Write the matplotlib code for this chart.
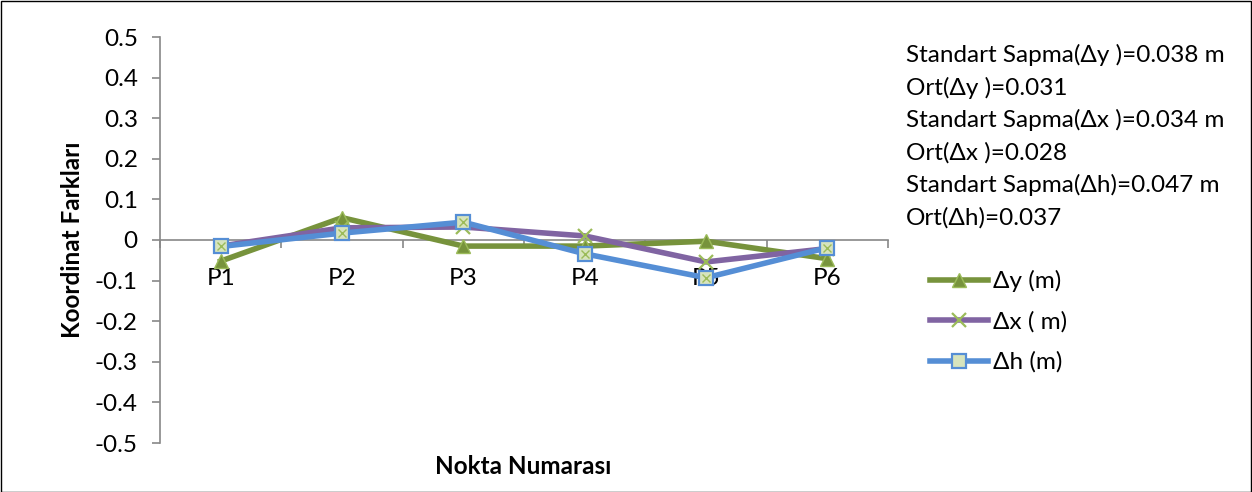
import matplotlib
matplotlib.use("Agg")
import matplotlib.pyplot as plt
from matplotlib.ticker import FixedLocator, NullFormatter
from matplotlib.lines import Line2D
from matplotlib.patches import Rectangle

plt.rcParams['font.family'] = ['Lato', 'DejaVu Sans']

points = ["P1", "P2", "P3", "P4", "P5", "P6"]
dy = [-0.052, 0.055, -0.015, -0.015, -0.003, -0.046]
dx = [-0.015, 0.030, 0.032, 0.010, -0.054, -0.021]
dh = [-0.016, 0.017, 0.044, -0.034, -0.093, -0.019]
series_labels = ["Δy (m)", "Δx ( m)", "Δh (m)"]
stats_lines = [
    "Standart Sapma(Δy )=0.038 m",
    "Ort(Δy )=0.031",
    "Standart Sapma(Δx )=0.034 m",
    "Ort(Δx )=0.028",
    "Standart Sapma(Δh)=0.047 m",
    "Ort(Δh)=0.037",
]
yticks = [-0.5, -0.4, -0.3, -0.2, -0.1, 0, 0.1, 0.2, 0.3, 0.4, 0.5]

W, H = 1252, 492
FS = 17.5
fig = plt.figure(figsize=(W / 100, H / 100), dpi=100)
fig.patches.append(Rectangle((0.5 / W, 0.5 / H), 1 - 1.5 / W, 1 - 1.5 / H,
                             transform=fig.transFigure, fill=False,
                             edgecolor="black", linewidth=1.0))

ax = fig.add_axes([160 / W, 49 / H, 728 / W, 406 / H])
x = list(range(len(points)))

c_y = "#77933C"
c_x = "#8064A2"
c_h = "#558ED5"
mk_light = "#9BBB59"

lw = 4.0
ax.plot(x, dy, color=c_y, lw=lw, marker="^", ms=10, mfc=c_y, mec="#9BBB59",
        mew=1.0, zorder=3)
ax.plot(x, dx, color=c_x, lw=lw, marker="x", ms=10, mec=mk_light, mew=1.6,
        zorder=4)
ax.plot(x, dh, color=c_h, lw=lw, marker="s", ms=10, mfc="#D7E4BD", mec=c_h,
        mew=1.6, zorder=5)
ax.plot(x, dh, linestyle="none", marker="x", ms=6, mec="#9BBB59", mew=1.0,
        zorder=6)

ax.set_xlim(-0.5, len(points) - 0.5)
ax.set_ylim(-0.5, 0.5)

for s in ["top", "right"]:
    ax.spines[s].set_visible(False)
ax.spines["bottom"].set_position(("data", 0))
ax.spines["bottom"].set_color("#888888")
ax.spines["left"].set_color("#888888")
ax.spines["bottom"].set_linewidth(1.2)
ax.spines["left"].set_linewidth(1.2)

ax.set_xticks(x)
ax.set_xticklabels(points)
ax.xaxis.set_minor_locator(FixedLocator([i - 0.5 for i in range(len(points) + 1)]))
ax.xaxis.set_minor_formatter(NullFormatter())
ax.tick_params(axis="x", which="major", length=0, pad=20, labelsize=FS)
ax.tick_params(axis="x", which="minor", length=6, width=1.2, color="#888888",
               direction="out")

ax.set_yticks(yticks)
ax.set_yticklabels(["0" if v == 0 else f"{v:.1f}" for v in yticks])
ax.tick_params(axis="y", length=6, width=1.2, color="#888888", labelsize=FS,
               pad=10)

fig.text(72 / W, 1 - 240 / H, "Koordinat Farkları", rotation=90, ha="center",
         va="center", fontsize=FS, fontweight="bold")
fig.text(523 / W, 1 - 467 / H, "Nokta Numarası", ha="center", va="center",
         fontsize=FS, fontweight="bold")

for i, line in enumerate(stats_lines):
    fig.text(906 / W, 1 - (55 + 32.5 * i) / H, line, ha="left", va="center",
             fontsize=FS)

handles = [
    Line2D([], [], color=c_y, lw=lw, marker="^", ms=10, mfc=c_y, mec="#9BBB59"),
    Line2D([], [], color=c_x, lw=lw, marker="x", ms=10, mec=mk_light, mew=1.6),
    Line2D([], [], color=c_h, lw=lw, marker="s", ms=10, mfc="#D7E4BD", mec=c_h,
           mew=1.6),
]
fig.legend(handles, series_labels, loc="upper left",
           bbox_to_anchor=(930 / W, 1 - 270 / H), frameon=False, fontsize=FS,
           handlelength=2.4, handletextpad=0.2, labelspacing=0.78,
           borderpad=0, borderaxespad=0)

fig.savefig("out.png", dpi=100)
